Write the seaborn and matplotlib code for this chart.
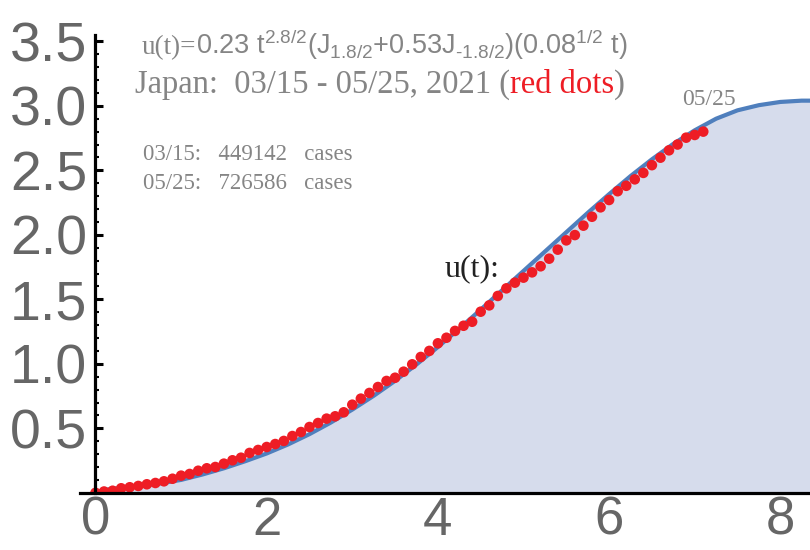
import numpy as np
import pandas as pd
import matplotlib
matplotlib.use("Agg")
import matplotlib.pyplot as plt
from matplotlib.ticker import FixedLocator, MultipleLocator
from matplotlib.transforms import offset_copy
import seaborn as sns

# ---------------- data ----------------
# fitted curve u(t)
curve_t = [0.0, 0.1, 0.25, 0.5, 0.75, 1.0, 1.25, 1.5, 1.75, 2.0, 2.25, 2.5, 2.75,
           3.0, 3.25, 3.5, 3.75, 4.0, 4.25, 4.5, 4.75, 5.0, 5.25, 5.5, 5.75,
           6.0, 6.25, 6.5, 6.75, 7.0, 7.25, 7.5, 7.75, 8.0, 8.25, 8.35]
curve_u = [0.0, 0.022, 0.035, 0.05, 0.072, 0.10, 0.142, 0.19, 0.245, 0.305, 0.375,
           0.455, 0.545, 0.645, 0.752, 0.868, 0.995, 1.13, 1.273, 1.42, 1.57,
           1.72, 1.87, 2.02, 2.17, 2.315, 2.455, 2.585, 2.705, 2.81, 2.90,
           2.965, 3.005, 3.03, 3.04, 3.04]

# Japan, 03/15 - 05/25 2021: one dot per day, t = day/10, (cases-449142)/1e5
day_index = list(range(72))
dots_u = [0.0, 0.01, 0.016, 0.035, 0.043, 0.053, 0.066, 0.076, 0.089, 0.109,
          0.133, 0.146, 0.171, 0.19, 0.20, 0.226, 0.252, 0.272, 0.309, 0.332,
          0.355, 0.378, 0.402, 0.44, 0.471, 0.51, 0.541, 0.575, 0.593, 0.624,
          0.683, 0.73, 0.774, 0.82, 0.867, 0.892, 0.939, 0.996, 1.053, 1.10,
          1.159, 1.202, 1.255, 1.295, 1.326, 1.404, 1.453, 1.526, 1.585, 1.629,
          1.668, 1.709, 1.756, 1.815, 1.885, 1.957, 1.998, 2.071, 2.14, 2.213,
          2.27, 2.338, 2.38, 2.43, 2.48, 2.54, 2.598, 2.655, 2.70, 2.753,
          2.774, 2.80]
dots_t = [d / 10 for d in day_index]

x_major = [0, 2, 4, 6, 8]
x_labels = ["0", "2", "4", "6", "8"]
y_major = [0.5, 1.0, 1.5, 2.0, 2.5, 3.0, 3.5]
y_labels = ["0.5", "1.0", "1.5", "2.0", "2.5", "3.0", "3.5"]

# ---------------- style ----------------
sns.set_theme(style="white")
plt.rcParams["font.family"] = ["Liberation Sans", "DejaVu Sans"]
plt.rcParams["mathtext.fontset"] = "custom"
plt.rcParams["mathtext.rm"] = "Liberation Sans"
plt.rcParams["mathtext.it"] = "Liberation Sans"
plt.rcParams["mathtext.default"] = "rm"

LINE = "#4F7FBD"
FILL = "#D6DCEC"
RED = "#EE1D25"
GRAY = "#858585"
TICKGRAY = "#666666"

fig = plt.figure(figsize=(8.1, 5.5), dpi=100)
ax = fig.add_axes([80 / 810, (550 - 492.8) / 550, 730 / 810, 457.8 / 550])

df_curve = pd.DataFrame({"t": curve_t, "u": curve_u})
df_dots = pd.DataFrame({"t": dots_t, "u": dots_u})

ax.fill_between(df_curve["t"], 0, df_curve["u"], color=FILL, linewidth=0, zorder=1)
sns.lineplot(data=df_curve, x="t", y="u", ax=ax, color=LINE, linewidth=3.0,
             zorder=2, sort=True)
sns.scatterplot(data=df_dots, x="t", y="u", ax=ax, color=RED, s=58,
                edgecolor="none", linewidth=0, zorder=3)

ax.set_xlim(-0.181, 8.347)
ax.set_ylim(0, 3.549)
ax.set_xlabel("")
ax.set_ylabel("")

for side in ["top", "right"]:
    ax.spines[side].set_visible(False)
ax.spines["left"].set_position(("data", 0))
ax.spines["bottom"].set_position(("data", 0))
for side in ["left", "bottom"]:
    ax.spines[side].set_color("black")
    ax.spines[side].set_linewidth(2.3)
    ax.spines[side].set_zorder(4)

ax.xaxis.set_major_locator(FixedLocator(x_major))
ax.set_xticklabels(x_labels)
ax.yaxis.set_major_locator(FixedLocator(y_major))
ax.set_yticklabels(y_labels)
ax.xaxis.set_minor_locator(MultipleLocator(0.5))
ax.yaxis.set_minor_locator(MultipleLocator(0.1))
ax.tick_params(which="major", direction="in", length=5.5, width=2.2,
               color="black", labelcolor=TICKGRAY)
ax.tick_params(which="minor", direction="in", length=3.0, width=1.5, color="black")
ax.tick_params(axis="x", which="both", bottom=True, top=False, pad=2, labelsize=38)
ax.tick_params(axis="y", which="both", left=True, right=False, pad=6, labelsize=40)
ax.grid(False)

# ---------------- texts ----------------
SERIF = ["Liberation Serif", "DejaVu Serif"]

fig.canvas.draw()
r = fig.canvas.get_renderer()


def after(prev_list, x, y, txt, **kw):
    """Place txt on the same baseline, right after the texts in prev_list."""
    w = sum(p.get_window_extent(renderer=r).width for p in prev_list)
    tr = offset_copy(ax.transData, fig=fig, x=w, y=0, units="dots")
    t = ax.text(x, y, txt, transform=tr, va="baseline", ha="left", **kw)
    fig.canvas.draw()
    return t


# line 1: formula
x1, y1 = 0.543, 3.40
t1 = ax.text(x1, y1, "u(t)=", family=SERIF, size=19.5, color=GRAY,
             va="baseline", ha="left")
fig.canvas.draw()
after([t1], x1, y1,
      "0.23 t$^{2.8/2}$(J$_{1.8/2}$+0.53J$_{\u2010 1.8/2}$)(0.08$^{1/2}$ t)",
      family=["Liberation Sans"], size=19.5, color=GRAY)

# line 2: country and period
x2, y2 = 0.46, 3.10
t2 = ax.text(x2, y2, "Japan:  03/15 - 05/25, 2021 (", family=SERIF, size=23.5,
             color=GRAY, va="baseline", ha="left")
fig.canvas.draw()
t3 = after([t2], x2, y2, "red dots", family=SERIF, size=23.5, color=RED)
after([t2, t3], x2, y2, ")", family=SERIF, size=23.5, color=GRAY)

ax.text(0.555, 2.62, "03/15:   449142   cases", family=SERIF, size=16.5, color=GRAY,
        va="center", ha="left")
ax.text(0.555, 2.40, "05/25:   726586   cases", family=SERIF, size=16.5, color=GRAY,
        va="center", ha="left")

ax.text(4.08, 1.74, "u(t):", family=SERIF, size=23, color="#222222",
        va="center", ha="left")
ax.text(7.17, 3.05, "05/25", family=SERIF, size=17, color=GRAY,
        va="center", ha="center")

fig.savefig("out.png", dpi=100)
